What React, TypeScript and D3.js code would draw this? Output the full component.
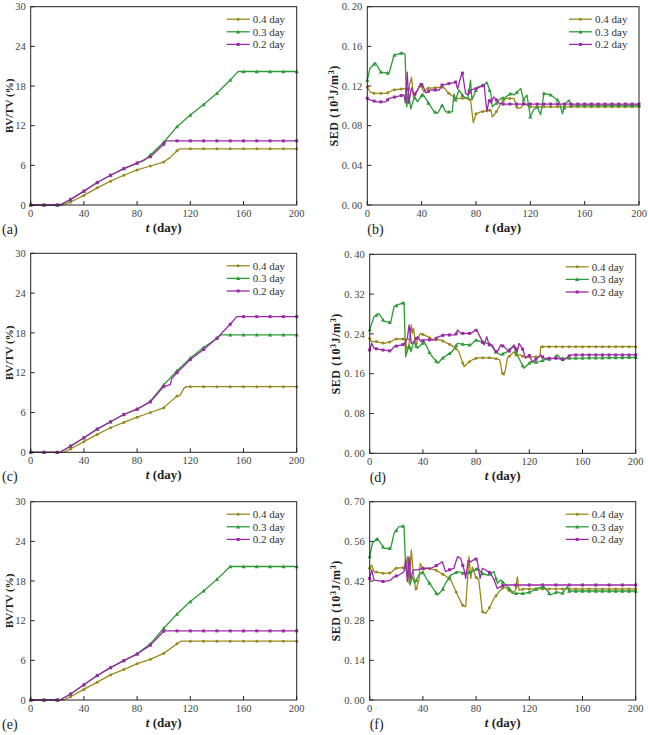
import React from 'react';
import * as d3 from 'd3';

type Pt = [number, number];

const SERIES_NAMES = ['0.4 day', '0.3 day', '0.2 day'];
const COLORS = ['#9a8a1e', '#2f9a38', '#9a2aa6'];
const X_TICKS = [0, 40, 80, 120, 160, 200];

// ---- Panel (a) BV/TV ----
const a04: Pt[] = [[0,0],[24,0],[30,0.45],[40,1.45],[50,2.6],[60,3.6],[70,4.5],[80,5.3],[90,5.9],[100,6.5],[105,7.2],[110,8.2],[112,8.5],[200,8.5]];
const a03: Pt[] = [[0,0],[22,0],[30,0.8],[40,2.1],[50,3.4],[60,4.5],[70,5.5],[80,6.35],[85,6.7],[90,7.6],[100,9.5],[110,11.85],[120,13.6],[130,15.2],[140,16.9],[150,18.9],[156,20.2],[200,20.2]];
const a02: Pt[] = [[0,0],[22,0],[30,0.85],[40,2.1],[50,3.4],[60,4.5],[70,5.5],[80,6.35],[90,7.3],[100,9.2],[102,9.7],[200,9.7]];

// ---- Panel (c) BV/TV ----
const c04: Pt[] = [[0,0],[25,0],[30,0.5],[40,1.6],[50,2.7],[60,3.7],[70,4.5],[80,5.3],[90,6.0],[100,6.7],[105,7.6],[110,8.5],[112,8.5],[115,9.6],[117,9.9],[200,9.9]];
const c03: Pt[] = [[0,0],[22,0],[30,0.9],[40,2.2],[50,3.5],[60,4.6],[70,5.7],[80,6.5],[90,7.7],[100,10.15],[110,12.3],[120,14.2],[130,15.8],[140,17.2],[143,17.7],[200,17.7]];
const c02: Pt[] = [[0,0],[22,0],[30,0.95],[40,2.2],[50,3.5],[60,4.6],[70,5.7],[80,6.5],[90,7.6],[100,9.9],[105,10.2],[106,11.1],[110,12.0],[120,14.0],[130,15.5],[140,17.2],[150,19.3],[155,20.45],[200,20.45]];

// ---- Panel (e) BV/TV ----
const e04: Pt[] = [[0,0],[25,0],[30,0.5],[40,1.6],[50,2.7],[60,3.8],[70,4.6],[80,5.5],[90,6.15],[100,7.05],[110,8.5],[113,8.9],[200,8.9]];
const e03: Pt[] = [[0,0],[22,0],[30,0.9],[40,2.3],[50,3.7],[60,4.9],[70,5.95],[80,7.0],[90,8.5],[100,10.85],[110,13.0],[120,14.9],[130,16.5],[140,18.25],[150,20.2],[200,20.2]];
const e02: Pt[] = [[0,0],[22,0],[30,0.9],[40,2.3],[50,3.7],[60,4.9],[70,5.95],[80,6.95],[90,8.3],[100,10.4],[101,10.45],[200,10.45]];

// ---- Panel (b) SED ----
const b04: Pt[] = [[0,0.119],[2,0.114],[5,0.1126],[14,0.1126],[19,0.116],[28,0.1176],[29.4,0.104],[31,0.121],[32.6,0.1287],[34,0.109],[36.5,0.114],[39,0.1227],[41.5,0.114],[44,0.1176],[56,0.119],[60,0.1126],[65,0.1076],[73.6,0.1076],[76,0.106],[78,0.083],[80,0.092],[83.4,0.094],[91,0.0958],[92,0.089],[94,0.092],[97,0.099],[98,0.1025],[102,0.1075],[108,0.1075],[110.4,0.0975],[113,0.098],[115,0.1025],[120,0.099],[200,0.099]];
const b03: Pt[] = [[0,0.126],[2,0.138],[6,0.1435],[10,0.134],[16,0.133],[19.7,0.151],[25.8,0.1536],[27.8,0.152],[29,0.099],[30.5,0.112],[32,0.097],[34.6,0.109],[37,0.104],[40.7,0.112],[44,0.105],[49.3,0.094],[52,0.093],[55.2,0.101],[57.6,0.094],[62.5,0.094],[63.8,0.112],[65,0.106],[67.4,0.116],[71,0.109],[74,0.107],[76,0.126],[77,0.106],[81,0.119],[86,0.121],[88,0.124],[91,0.112],[92,0.099],[96,0.104],[98,0.1075],[101,0.108],[105.5,0.1126],[108,0.111],[113,0.1176],[115,0.106],[117.5,0.111],[120,0.089],[122.5,0.096],[125,0.099],[127.6,0.091],[130,0.1126],[135,0.111],[140,0.106],[141.5,0.103],[143.6,0.092],[146,0.1025],[148.5,0.106],[150,0.1008],[200,0.1005]];
const b02: Pt[] = [[0,0.1076],[2,0.106],[7,0.104],[13.5,0.104],[16,0.1076],[27,0.111],[28,0.103],[29.4,0.134],[30.5,0.1025],[32.5,0.118],[34.5,0.111],[37,0.116],[38,0.119],[40.5,0.122],[43,0.113],[46.6,0.116],[53,0.116],[55,0.121],[61,0.1227],[65,0.124],[66.5,0.117],[68.7,0.129],[70,0.133],[72.4,0.1126],[74,0.111],[76,0.116],[81,0.1176],[86,0.121],[88,0.094],[89.6,0.106],[91,0.103],[93,0.109],[95,0.106],[97,0.1025],[100,0.1018],[200,0.1018]];

// ---- Panel (d) SED ----
const d04: Pt[] = [[0,0.231],[1.5,0.2245],[5,0.2245],[10.8,0.221],[15.8,0.2245],[19.5,0.2298],[27,0.2298],[28.3,0.204],[29.5,0.218],[31.3,0.258],[32,0.241],[33,0.251],[34.5,0.218],[36.5,0.231],[38,0.241],[41,0.238],[48,0.228],[53,0.228],[61,0.218],[64.7,0.211],[67,0.2044],[68.3,0.194],[71,0.174],[73.4,0.181],[77,0.1876],[81,0.192],[91,0.192],[96,0.1896],[97.7,0.1876],[99.7,0.161],[101,0.1575],[102,0.1675],[103.5,0.191],[106,0.1977],[108.5,0.2044],[110,0.1977],[113,0.1977],[116,0.194],[128,0.194],[128.6,0.2144],[200,0.2144]];
const d03: Pt[] = [[0,0.248],[3.3,0.275],[7,0.281],[10.8,0.265],[15.8,0.263],[18.3,0.295],[22,0.2995],[25.8,0.3035],[27,0.194],[29.5,0.218],[31,0.204],[33,0.224],[36,0.211],[41,0.2245],[46,0.1977],[51.4,0.181],[54.6,0.191],[62,0.2044],[66,0.221],[71,0.219],[76,0.2178],[79.7,0.228],[83.5,0.2245],[88.5,0.221],[91,0.218],[94.7,0.2044],[98.5,0.1977],[103.5,0.2044],[106,0.211],[108.5,0.2144],[111,0.1977],[113.5,0.184],[116,0.171],[121,0.184],[126,0.183],[131,0.1876],[138.6,0.191],[141,0.1977],[143.5,0.191],[200,0.193]];
const d02: Pt[] = [[0,0.2077],[1.5,0.221],[3.3,0.211],[9.5,0.2077],[15.8,0.2057],[18.3,0.2144],[25.8,0.219],[28.3,0.231],[29.6,0.258],[31.3,0.221],[33.3,0.2245],[36,0.2345],[38.6,0.2245],[41,0.228],[48,0.228],[52,0.2345],[56,0.2379],[64.7,0.2379],[66,0.248],[68.4,0.241],[76,0.241],[79.7,0.248],[81,0.245],[83.5,0.231],[86,0.218],[88,0.2345],[89.7,0.218],[92,0.218],[94.7,0.2044],[96,0.2044],[98.5,0.218],[101,0.2144],[104.7,0.2044],[108.5,0.218],[111,0.2044],[112.3,0.221],[114.8,0.211],[117.3,0.191],[119.8,0.1977],[122.3,0.184],[126,0.191],[128.6,0.1977],[131,0.191],[141,0.191],[146,0.1876],[151,0.1977],[200,0.1977]];

// ---- Panel (f) SED ----
const f04: Pt[] = [[0,0.465],[1.5,0.4765],[3.3,0.453],[10.8,0.447],[15.8,0.449],[19.5,0.465],[27,0.468],[28.3,0.506],[29.6,0.412],[31.3,0.53],[32.8,0.447],[34.6,0.388],[37,0.4235],[38,0.482],[40.5,0.459],[43.4,0.465],[49.6,0.459],[56,0.441],[61,0.4235],[66,0.3706],[69.7,0.335],[72.2,0.329],[74.7,0.506],[76,0.429],[77.2,0.47],[79.7,0.435],[82,0.4235],[84.7,0.312],[87.2,0.306],[89.7,0.323],[93.5,0.359],[97.2,0.382],[101,0.4],[104.7,0.388],[107.2,0.3765],[109.7,0.388],[111,0.435],[112.3,0.388],[116,0.392],[200,0.392]];
const f03: Pt[] = [[0,0.506],[2,0.553],[5.8,0.571],[8.3,0.553],[10.8,0.535],[15.8,0.535],[18.3,0.588],[22,0.612],[25.8,0.614],[27,0.47],[28.5,0.435],[29.6,0.5],[30.3,0.406],[32,0.435],[33.8,0.412],[37,0.441],[39.6,0.453],[43.4,0.4235],[51,0.3706],[54.6,0.388],[57,0.412],[61,0.441],[66,0.453],[71,0.447],[77,0.453],[81,0.465],[84.7,0.447],[88.5,0.441],[93.5,0.453],[96,0.412],[98.5,0.4235],[102.3,0.406],[106,0.388],[108.5,0.3765],[116,0.3765],[121,0.382],[126,0.394],[131,0.4],[136,0.3706],[141,0.382],[144.8,0.3765],[148.6,0.4],[150,0.3847],[200,0.3847]];
const f02: Pt[] = [[0,0.429],[1.5,0.459],[3.3,0.4235],[10.8,0.4176],[15.8,0.4235],[18.3,0.435],[22,0.441],[25.8,0.453],[27,0.494],[28.3,0.4176],[29.6,0.506],[30.8,0.429],[32.8,0.459],[35.8,0.459],[39.6,0.465],[45.9,0.465],[48.4,0.47],[54.6,0.488],[57,0.453],[59.6,0.459],[63.3,0.465],[66,0.506],[68.4,0.5],[71,0.459],[72.2,0.429],[74,0.494],[76,0.488],[79.7,0.5],[81,0.488],[83,0.429],[84.7,0.465],[87.2,0.459],[91,0.447],[93.5,0.4235],[96,0.394],[98.5,0.4],[101,0.406],[200,0.406]];

const BV_TICKS = [0, 6, 12, 18, 24, 30];
const SED_B_TICKS = [0, 0.04, 0.08, 0.12, 0.16, 0.2];
const SED_D_TICKS = [0, 0.08, 0.16, 0.24, 0.32, 0.4];
const SED_F_TICKS = [0, 0.14, 0.28, 0.42, 0.56, 0.7];

interface PanelDef {
  tag: string;
  box: { l: number; r: number; t: number; b: number };
  yTicks: number[];
  kind: 'bv' | 'sed';
  series: Pt[][];
  markStep: number[];
}

const PANELS: PanelDef[] = [
  { tag: '(a)', box: { l: 30.7, r: 296.7, t: 6.7, b: 205 }, yTicks: BV_TICKS, kind: 'bv', series: [a04, a03, a02], markStep: [10, 10, 10] },
  { tag: '(b)', box: { l: 367.3, r: 639, t: 6.7, b: 205 }, yTicks: SED_B_TICKS, kind: 'sed', series: [b04, b03, b02], markStep: [5, 5, 5] },
  { tag: '(c)', box: { l: 30.7, r: 296.7, t: 253.3, b: 452.3 }, yTicks: BV_TICKS, kind: 'bv', series: [c04, c03, c02], markStep: [10, 10, 10] },
  { tag: '(d)', box: { l: 369.7, r: 635.7, t: 254.3, b: 453.3 }, yTicks: SED_D_TICKS, kind: 'sed', series: [d04, d03, d02], markStep: [5, 5, 5] },
  { tag: '(e)', box: { l: 30.7, r: 296.7, t: 501.7, b: 700 }, yTicks: BV_TICKS, kind: 'bv', series: [e04, e03, e02], markStep: [10, 10, 10] },
  { tag: '(f)', box: { l: 369.7, r: 635.7, t: 501.7, b: 700 }, yTicks: SED_F_TICKS, kind: 'sed', series: [f04, f03, f02], markStep: [5, 5, 10] },
];

const SERIF = '"Liberation Serif", "DejaVu Serif", serif';

function interp(data: Pt[], t: number): number {
  for (let i = 1; i < data.length; i++) {
    if (t <= data[i][0]) {
      const [t0, v0] = data[i - 1];
      const [t1, v1] = data[i];
      if (t1 === t0) return v1;
      return v0 + ((v1 - v0) * (t - t0)) / (t1 - t0);
    }
  }
  return data[data.length - 1][1];
}

function Marker({ k, x, y, color }: { k: number; x: number; y: number; color: string }) {
  if (k === 0) {
    return <circle cx={x} cy={y} r={1.5} fill={color} />;
  }
  if (k === 1) {
    const s = 2.1;
    return <path d={`M${x},${y - s}L${x + s},${y + s * 0.8}L${x - s},${y + s * 0.8}Z`} fill={color} />;
  }
  return <rect x={x - 1.5} y={y - 1.5} width={3} height={3} fill={color} />;
}

function Panel({ p }: { p: PanelDef }) {
  const { l, r, t, b } = p.box;
  const x = d3.scaleLinear().domain([0, 200]).range([l, r]);
  const yMax = p.yTicks[p.yTicks.length - 1];
  const y = d3.scaleLinear().domain([0, yMax]).range([b, t]);
  const line = d3.line<Pt>().x((d) => x(d[0])).y((d) => y(d[1]));
  const fmt = (v: number) =>
    p.kind === 'bv' ? d3.format('d')(v) : d3.format('.2f')(v).replace('.', '.\u2009');
  const cx = (l + r) / 2;
  const cy = (t + b) / 2;
  const isLeft = l < 100;
  const drawOrder = [0, 1, 2];
  return (
    <g>
      {drawOrder.map((k) => {
        const data = p.series[k];
        const step = p.markStep[k];
        const marks = d3.range(0, 200 + 0.001, step);
        return (
          <g key={k}>
            <path d={line(data) || ''} fill="none" stroke={COLORS[k]} strokeWidth={1.3} strokeLinejoin="round" />
            {marks.map((m) => (
              <Marker key={m} k={k} x={x(m)} y={y(interp(data, m))} color={COLORS[k]} />
            ))}
          </g>
        );
      })}
      <rect x={l} y={t} width={r - l} height={b - t} fill="none" stroke="#222" strokeWidth={1} />
      {X_TICKS.map((v) => (
        <g key={'x' + v}>
          <line x1={x(v)} x2={x(v)} y1={b} y2={b - 4} stroke="#222" strokeWidth={1} />
          <text x={x(v)} y={b + 12} textAnchor="middle" fontSize={10.5} fill="#444" fontFamily={SERIF}>
            {v}
          </text>
        </g>
      ))}
      {p.yTicks.map((v) => (
        <g key={'y' + v}>
          <line x1={l} x2={l + 4} y1={y(v)} y2={y(v)} stroke="#222" strokeWidth={1} />
          <text x={l - 5} y={y(v)} dy="0.35em" textAnchor="end" fontSize={10.5} fill="#444" fontFamily={SERIF}>
            {fmt(v)}
          </text>
        </g>
      ))}
      {p.kind === 'bv' ? (
        <text
          transform={`translate(${l - 22},${cy}) rotate(-90)`}
          textAnchor="middle"
          dy="0.35em"
          fontSize={11}
          fontWeight="bold"
          fontFamily={SERIF}
          fill="#222"
        >
          BV/TV (%)
        </text>
      ) : (
        <text
          transform={`translate(${l - 34},${cy}) rotate(-90)`}
          textAnchor="middle"
          dy="0.35em"
          fontSize={12}
          fontWeight="bold"
          fontFamily={SERIF}
          fill="#222"
          letterSpacing={0.6}
        >
          SED (10
          <tspan baselineShift="super" fontSize={8}>3</tspan>
          J/m
          <tspan baselineShift="super" fontSize={8}>3</tspan>
          )
        </text>
      )}
      <text x={cx} y={b + 27} textAnchor="middle" fontSize={13} fontWeight="bold" fontFamily={SERIF} fill="#222">
        <tspan fontStyle="italic">t</tspan> (day)
      </text>
      <text x={isLeft ? 2 : l} y={b + 29} fontSize={14} fontFamily={SERIF} fill="#222">
        {p.tag}
      </text>
      {SERIES_NAMES.map((name, k) => {
        const ly = t + 12.5 + k * 12.6;
        const x0 = r - 70;
        const x1 = r - 47;
        return (
          <g key={name}>
            <line x1={x0} x2={x1} y1={ly} y2={ly} stroke={COLORS[k]} strokeWidth={1.3} />
            <Marker k={k} x={(x0 + x1) / 2} y={ly} color={COLORS[k]} />
            <text x={r - 44} y={ly} dy="0.35em" fontSize={11} fontFamily={SERIF} fill="#333">
              {name}
            </text>
          </g>
        );
      })}
    </g>
  );
}

export default function App() {
  return (
    <svg
      width={648}
      height={735}
      viewBox="0 0 648 735"
      style={{ position: 'absolute', left: 0, top: 0, background: '#fff' }}
    >
      <rect x={0} y={0} width={648} height={735} fill="#fff" />
      {PANELS.map((p) => (
        <Panel key={p.tag} p={p} />
      ))}
    </svg>
  );
}
